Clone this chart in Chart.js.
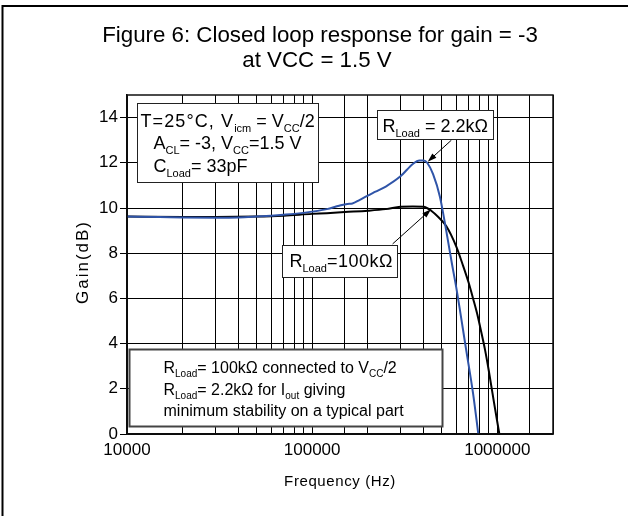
<!DOCTYPE html>
<html>
<head>
<meta charset="utf-8">
<script src="https://cdn.jsdelivr.net/npm/chart.js@4.4.0/dist/chart.umd.min.js"></script>
<style>
  html, body { margin: 0; padding: 0; background: #fff; }
</style>
</head>
<body>
<canvas id="gainChart" width="628" height="516"></canvas>
<script>
// curve: R_Load = 2.2k (blue)
const freq2k2 = [10000, 15000, 20000, 30000, 40000, 50000, 60000, 70000, 80000, 100000, 120000, 140000, 155000, 165000, 180000, 200000, 220000, 250000, 300000, 350000, 380000, 400000, 420000, 450000, 490000, 530000, 570000, 600000, 680000, 740000, 790000];
const gain2k2 = [9.62, 9.6, 9.58, 9.57, 9.58, 9.62, 9.66, 9.7, 9.74, 9.84, 9.95, 10.1, 10.18, 10.2, 10.35, 10.55, 10.72, 10.95, 11.4, 11.95, 12.1, 12.1, 11.98, 11.5, 10.5, 9.0, 7.5, 6.5, 3.7, 1.8, 0];

// curve: R_Load = 100k (black)
const freq100k = [10000, 20000, 30000, 50000, 70000, 100000, 120000, 150000, 200000, 250000, 300000, 350000, 400000, 440000, 480000, 530000, 600000, 650000, 700000, 740000, 780000, 820000, 860000, 900000, 960000, 1026000];
const gain100k = [9.62, 9.6, 9.6, 9.62, 9.66, 9.74, 9.77, 9.82, 9.88, 9.95, 10.05, 10.07, 10.06, 9.88, 9.6, 9.2, 8.3, 7.5, 6.7, 6.0, 5.3, 4.5, 3.7, 2.8, 1.4, 0];

const xTickLabels = [10000, 100000, 1000000];
const yTickLabels = [0, 2, 4, 6, 8, 10, 12, 14];

const FONT = '"Liberation Sans", Arial, sans-serif';

const toPoints = (xs, ys) => xs.map((x, i) => ({ x: x, y: ys[i] }));

// text boxes, anchored at a data position (top-left corner)
const boxes = [
  { f: 11320, g: 14.65, w: 181, h: 79, size: 18, border: '#222', lw: 1, lines: [
    { dx: 3, dy: 23, parts: [['T=25°C, V', 0, 1.1], ['icm', 1], [' = V', 0], ['CC', 1], ['/2', 0]] },
    { dx: 16, dy: 45, parts: [['A', 0], ['CL', 1], ['= -3, V', 0], ['CC', 1], ['=1.5 V', 0]] },
    { dx: 16, dy: 68, parts: [['C', 0], ['Load', 1], ['= 33pF', 0]] }
  ]},
  { f: 222700, g: 14.34, w: 116, h: 29, size: 18, border: '#222', lw: 1, lines: [
    { dx: 5, dy: 21, parts: [['R', 0], ['Load', 1], [' = 2.2kΩ', 0]] }
  ]},
  { f: 68500, g: 8.36, w: 115, h: 32, size: 18, border: '#222', lw: 1, lines: [
    { dx: 7, dy: 21, parts: [['R', 0], ['Load', 1], ['=100kΩ', 0, 0.5]] }
  ]},
  { f: 10250, g: 3.76, w: 313, h: 77, size: 16, border: '#444', lw: 2, lines: [
    { dx: 34, dy: 23, parts: [['R', 0], ['Load', 1], ['= 100kΩ connected to V', 0], ['CC', 1], ['/2', 0]] },
    { dx: 34, dy: 45, parts: [['R', 0], ['Load', 1], ['= 2.2kΩ for I', 0], ['out', 1], [' giving', 0]] },
    { dx: 34, dy: 66, parts: [['minimum stability on a typical part', 0]] }
  ]}
];

const arrows = [
  { f0: 565000, g0: 13.0, f1: 421000, g1: 12.05 },
  { f0: 272000, g0: 8.41, f1: 439000, g1: 9.94 }
];

function richText(ctx, x, y, parts, size) {
  let cx = x;
  parts.forEach(p => {
    const sub = p[1];
    ctx.font = (sub ? Math.round(size * 0.6) : size) + 'px ' + FONT;
    ctx.letterSpacing = (p[2] || 0) + 'px';
    ctx.fillText(p[0], cx, y + (sub ? size * 0.3 : 0));
    cx += ctx.measureText(p[0]).width;
  });
  ctx.letterSpacing = '0px';
}

const decor = {
  id: 'decor',
  beforeDraw(chart) {
    const c = chart.ctx;
    c.save();
    c.fillStyle = '#fff';
    c.fillRect(0, 0, chart.width, chart.height);
    // outer frame
    c.strokeStyle = '#000';
    c.lineWidth = 2;
    c.strokeRect(2.5, 6, 700, 600);
    // title
    c.fillStyle = '#000';
    c.textAlign = 'center';
    c.textBaseline = 'alphabetic';
    c.font = '22.3px ' + FONT;
    c.fillText('Figure 6: Closed loop response for gain = -3', 320, 42);
    c.fillText('at VCC = 1.5 V', 317, 67);
    // axis titles
    c.font = '15px ' + FONT;
    c.letterSpacing = '0.6px';
    c.fillText('Frequency (Hz)', 340, 486);
    c.save();
    c.translate(88, 262);
    c.rotate(-Math.PI / 2);
    c.font = '17px ' + FONT;
    c.letterSpacing = '2px';
    c.fillText('Gain(dB)', 0, 0);
    c.restore();
    c.restore();
  },
  afterDatasetsDraw(chart) {
    const c = chart.ctx;
    const xs = chart.scales.x, ys = chart.scales.y;
    const a = chart.chartArea;
    c.save();
    // plot frame
    c.strokeStyle = '#111';
    c.lineWidth = 1.5;
    c.strokeRect(a.left, a.top, a.right - a.left, a.bottom - a.top);

    boxes.forEach(b => {
      const x = Math.round(xs.getPixelForValue(b.f)) + 0.5;
      const y = Math.round(ys.getPixelForValue(b.g)) + 0.5;
      c.fillStyle = '#fff';
      c.fillRect(x, y, b.w, b.h);
      c.strokeStyle = b.border;
      c.lineWidth = b.lw;
      c.strokeRect(x, y, b.w, b.h);
      c.fillStyle = '#000';
      c.textAlign = 'left';
      c.textBaseline = 'alphabetic';
      b.lines.forEach(l => richText(c, x + l.dx, y + l.dy, l.parts, b.size));
    });

    arrows.forEach(ar => {
      const x0 = xs.getPixelForValue(ar.f0), y0 = ys.getPixelForValue(ar.g0);
      const x1 = xs.getPixelForValue(ar.f1), y1 = ys.getPixelForValue(ar.g1);
      const ang = Math.atan2(y1 - y0, x1 - x0);
      c.strokeStyle = '#000';
      c.lineWidth = 1;
      c.beginPath();
      c.moveTo(x0, y0);
      c.lineTo(x1 - 6 * Math.cos(ang), y1 - 6 * Math.sin(ang));
      c.stroke();
      c.fillStyle = '#000';
      c.beginPath();
      c.moveTo(x1, y1);
      c.lineTo(x1 - 9 * Math.cos(ang) + 3 * Math.sin(ang), y1 - 9 * Math.sin(ang) - 3 * Math.cos(ang));
      c.lineTo(x1 - 9 * Math.cos(ang) - 3 * Math.sin(ang), y1 - 9 * Math.sin(ang) + 3 * Math.cos(ang));
      c.closePath();
      c.fill();
    });
    c.restore();
  }
};

new Chart(document.getElementById('gainChart'), {
  type: 'line',
  data: {
    datasets: [
      {
        label: 'RLoad = 2.2k',
        data: toPoints(freq2k2, gain2k2),
        borderColor: '#2f54a8',
        borderWidth: 2,
        pointRadius: 0,
        cubicInterpolationMode: 'monotone'
      },
      {
        label: 'RLoad = 100k',
        data: toPoints(freq100k, gain100k),
        borderColor: '#000',
        borderWidth: 2,
        pointRadius: 0,
        cubicInterpolationMode: 'monotone'
      }
    ]
  },
  options: {
    responsive: false,
    animation: false,
    devicePixelRatio: 1,
    layout: { padding: { left: 0, right: 75, top: 95, bottom: 0 } },
    plugins: { legend: { display: false }, tooltip: { enabled: false } },
    scales: {
      x: {
        type: 'logarithmic',
        min: 10000,
        max: 2000000,
        afterFit: s => { s.height = 82; },
        grid: { color: '#000', lineWidth: 1, drawTicks: false },
        border: { color: '#000', width: 1.5 },
        ticks: {
          autoSkip: false,
          maxRotation: 0,
          padding: 6,
          color: '#000',
          font: { family: FONT, size: 17 },
          callback: v => xTickLabels.includes(Math.round(v)) ? String(Math.round(v)) : ''
        }
      },
      y: {
        min: 0,
        max: 15,
        afterFit: s => { s.width = 127; },
        grid: { color: '#000', lineWidth: 1, tickLength: 7 },
        border: { color: '#000', width: 1.5 },
        ticks: {
          stepSize: 2,
          includeBounds: false,
          padding: 2,
          color: '#000',
          font: { family: FONT, size: 17 },
          callback: v => yTickLabels.includes(v) ? String(v) : ''
        }
      }
    }
  },
  plugins: [decor]
});
</script>
</body>
</html>
